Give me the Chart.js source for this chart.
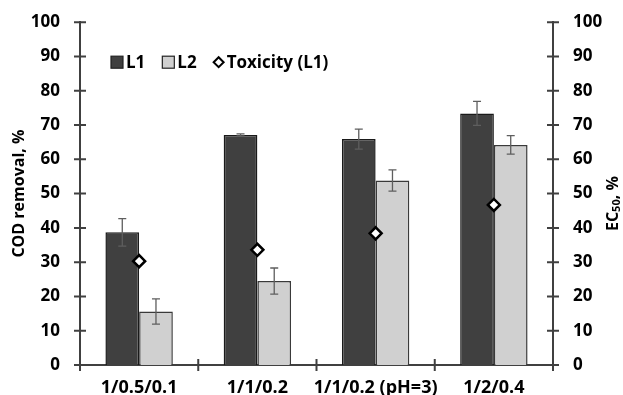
<!DOCTYPE html>
<html>
<head>
<meta charset="utf-8">
<script src="https://cdn.jsdelivr.net/npm/chart.js@4"></script>
<style>
  html, body { margin: 0; padding: 0; background: #fff; }
  canvas { display: block; }
</style>
</head>
<body>
<canvas id="chart" width="623" height="395"></canvas>
<script>
// Catalyst ratios tested
const categories = ['1/0.5/0.1', '1/1/0.2', '1/1/0.2 (pH=3)', '1/2/0.4'];

// COD removal (%) for the two leachates, with standard deviations
const codL1 = [38.7, 67.1, 65.9, 73.4];
const codL1Err = [4.0, 0.3, 2.9, 3.5];
const codL2 = [15.6, 24.5, 53.8, 64.2];
const codL2Err = [3.7, 3.8, 3.1, 2.7];

// Toxicity of L1 after treatment, EC50 (%)
const toxicityL1 = [30.3, 33.6, 38.4, 46.7];

// Axis tick values (both vertical axes)
const axisTicks = [0, 10, 20, 30, 40, 50, 60, 70, 80, 90, 100];

const FONT = '"Open Sans", "Liberation Sans", sans-serif';
const AXIS_COLOR = '#404040';
const DARK = '#404040';
const LIGHT = '#d0d0d0';

// Short tick marks that cross the axis lines
const crossTicks = {
  id: 'crossTicks',
  afterDraw(chart) {
    const { ctx, chartArea, scales } = chart;
    const half = 6;
    ctx.save();
    ctx.strokeStyle = AXIS_COLOR;
    ctx.lineWidth = 2;
    ctx.beginPath();
    axisTicks.forEach(v => {
      const yl = scales.y.getPixelForValue(v);
      ctx.moveTo(chartArea.left - half, yl);
      ctx.lineTo(chartArea.left + half, yl);
      const yr = scales.y2.getPixelForValue(v);
      ctx.moveTo(chartArea.right - half, yr);
      ctx.lineTo(chartArea.right + half, yr);
    });
    for (let i = 0; i <= categories.length; i++) {
      const xb = scales.x.getPixelForValue(i - 0.5);
      ctx.moveTo(xb, chartArea.bottom - half);
      ctx.lineTo(xb, chartArea.bottom + half);
    }
    ctx.stroke();
    ctx.restore();
  }
};

// Error bars drawn right after each bar dataset
const errorBars = {
  id: 'errorBars',
  afterDatasetDraw(chart, args) {
    const ds = chart.data.datasets[args.index];
    if (!ds.errors) return;
    const { ctx } = chart;
    const yScale = chart.scales[ds.yAxisID || 'y'];
    const cap = 4;
    ctx.save();
    ctx.strokeStyle = '#5e5e5e';
    ctx.lineWidth = 1.3;
    args.meta.data.forEach((bar, i) => {
      const v = ds.data[i], e = ds.errors[i];
      const yTop = yScale.getPixelForValue(v + e);
      const yBot = yScale.getPixelForValue(v - e);
      ctx.beginPath();
      ctx.moveTo(bar.x, yTop); ctx.lineTo(bar.x, yBot);
      ctx.moveTo(bar.x - cap, yTop); ctx.lineTo(bar.x + cap, yTop);
      ctx.moveTo(bar.x - cap, yBot); ctx.lineTo(bar.x + cap, yBot);
      ctx.stroke();
    });
    ctx.restore();
  }
};

// Legend placed inside the plot area, near its top-left corner
const insideLegend = {
  id: 'insideLegend',
  afterDraw(chart) {
    const { ctx, chartArea } = chart;
    const ds = chart.data.datasets;
    const cy = chartArea.top + 40;
    let x = chartArea.left + 31;
    ctx.save();
    ctx.font = 'bold 17px ' + FONT;
    ctx.textBaseline = 'middle';
    ctx.fillStyle = '#000';
    [ds[1], ds[2]].forEach(d => {
      ctx.fillStyle = d.backgroundColor;
      ctx.fillRect(x, cy - 6, 12, 12);
      ctx.strokeStyle = '#222';
      ctx.lineWidth = 1.2;
      ctx.strokeRect(x, cy - 6, 12, 12);
      ctx.fillStyle = '#000';
      ctx.fillText(d.label, x + 15, cy + 1);
      x += 15 + ctx.measureText(d.label).width + 17;
    });
    const t = ds[0];
    const dx = x + 5;
    ctx.beginPath();
    ctx.moveTo(dx - 5, cy); ctx.lineTo(dx, cy - 5);
    ctx.lineTo(dx + 5, cy); ctx.lineTo(dx, cy + 5);
    ctx.closePath();
    ctx.fillStyle = '#fff'; ctx.fill();
    ctx.strokeStyle = '#000'; ctx.lineWidth = 2; ctx.stroke();
    ctx.fillStyle = '#000';
    ctx.fillText(t.label, dx + 8, cy + 1);
    ctx.restore();
  }
};

// Right-hand axis title with a subscript
const rightTitle = {
  id: 'rightTitle',
  afterDraw(chart) {
    const { ctx, chartArea, width } = chart;
    const parts = [
      { t: 'EC', size: 16, dy: 0 },
      { t: '50', size: 11, dy: 4 },
      { t: ', %', size: 16, dy: 0 }
    ];
    ctx.save();
    let total = 0;
    parts.forEach(p => { ctx.font = 'bold ' + p.size + 'px ' + FONT; p.w = ctx.measureText(p.t).width; total += p.w; });
    ctx.translate(width - 10, (chartArea.top + chartArea.bottom) / 2 + 10);
    ctx.rotate(-Math.PI / 2);
    ctx.fillStyle = '#000';
    ctx.textBaseline = 'middle';
    let x = -total / 2;
    parts.forEach(p => {
      ctx.font = 'bold ' + p.size + 'px ' + FONT;
      ctx.fillText(p.t, x, p.dy);
      x += p.w;
    });
    ctx.restore();
  }
};

const tickFont = { family: FONT, size: 17, weight: 'bold' };

const valueAxis = (position, width, title) => ({
  position,
  min: 0,
  max: 100,
  afterBuildTicks(s) { s.ticks = axisTicks.map(v => ({ value: v })); },
  ticks: { color: '#000', font: tickFont, padding: 12 },
  grid: { display: false },
  border: { display: true, color: AXIS_COLOR, width: 2 },
  title,
  afterFit(s) { s.width = width; }
});

new Chart(document.getElementById('chart'), {
  type: 'bar',
  data: {
    labels: categories,
    datasets: [
      {
        type: 'line',
        label: 'Toxicity (L1)',
        data: toxicityL1,
        yAxisID: 'y2',
        showLine: false,
        pointStyle: 'rectRot',
        pointRadius: 6,
        pointBackgroundColor: '#fff',
        pointBorderColor: '#000',
        pointBorderWidth: 2.5,
        order: 0
      },
      {
        label: 'L1',
        data: codL1,
        errors: codL1Err,
        backgroundColor: DARK,
        borderColor: '#1a1a1a',
        borderWidth: 1.5,
        yAxisID: 'y',
        order: 1
      },
      {
        label: 'L2',
        data: codL2,
        errors: codL2Err,
        backgroundColor: LIGHT,
        borderColor: '#3a3a3a',
        borderWidth: 1.5,
        yAxisID: 'y',
        order: 2
      }
    ]
  },
  options: {
    responsive: false,
    devicePixelRatio: 1,
    animation: false,
    layout: { padding: { top: 19, left: 0, right: 0, bottom: 0 } },
    datasets: { bar: { barPercentage: 1, categoryPercentage: 0.57 } },
    plugins: { legend: { display: false }, tooltip: { enabled: false } },
    scales: {
      x: {
        grid: { display: false },
        border: { display: true, color: AXIS_COLOR, width: 2 },
        ticks: { color: '#000', font: { family: FONT, size: 18, weight: 'bold' }, padding: 4, maxRotation: 0, autoSkip: false },
        afterFit(s) { s.height = 30; }
      },
      y: valueAxis('left', 80, {
        display: true,
        text: 'COD removal, %',
        color: '#000',
        font: { family: FONT, size: 16, weight: 'bold' },
        padding: { top: 10, bottom: 0 }
      }),
      y2: valueAxis('right', 70, { display: false })
    }
  },
  plugins: [errorBars, crossTicks, insideLegend, rightTitle]
});
</script>
</body>
</html>
